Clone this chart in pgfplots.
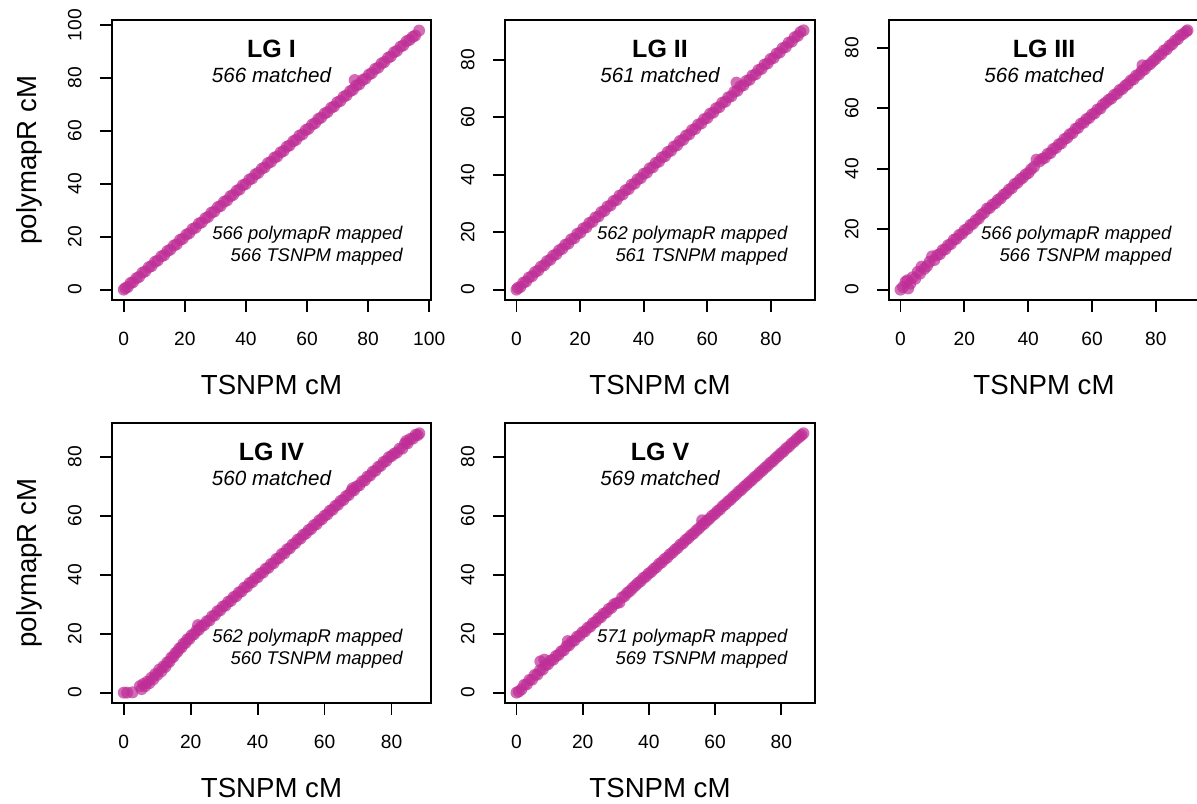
\documentclass[border=0pt]{standalone}
\usepackage{fontspec}
\setmainfont{Liberation Sans}
\usepackage{pgfplots}
\pgfplotsset{compat=1.18}
\definecolor{ptcol}{RGB}{190,45,150}

\pgfplotsset{
  rpanel/.style={
    scale only axis, height=140pt,
    axis line style={line width=0.9pt, black},
    tick align=outside, xtick pos=left, ytick pos=left,
    major tick length=6pt,
    tick style={line width=0.9pt, black},
    /pgf/number format/assume math mode=true,
    ticklabel style={font=\fontsize{9.6}{11}\selectfont, inner sep=0pt},
    xticklabel style={anchor=north},
    yticklabel style={rotate=90, anchor=south},
    xticklabel shift=10pt, yticklabel shift=9pt,
    label style={font=\fontsize{13.8}{16}\selectfont},
    xlabel={TSNPM cM},
    xlabel style={at={(axis description cs:0.5,-0.3036)}, anchor=center},
    ylabel style={at={(axis description cs:-0.26,0.5)}, anchor=center},
  },
  rpts/.style={only marks, mark=*, mark size=3.0pt, color=ptcol,
    mark options={draw opacity=0, fill=ptcol, fill opacity=0.7}},
}
\newcommand{\paneltext}[4]{%
  \node[font=\fontsize{12.5}{14}\selectfont\bfseries] at (rel axis cs:0.5,0.896) {#1};
  \node[font=\fontsize{10.3}{12}\selectfont\itshape] at (rel axis cs:0.5,0.804) {#2 matched};
  \node[anchor=east, inner sep=0pt, font=\fontsize{9.2}{11}\selectfont\itshape] at (rel axis cs:0.912,0.232) {#3 polymapR mapped};
  \node[anchor=east, inner sep=0pt, font=\fontsize{9.2}{11}\selectfont\itshape] at (rel axis cs:0.912,0.154) {#4 TSNPM mapped};
}

\begin{document}
\begin{tikzpicture}
\useasboundingbox (0,0) rectangle (598.5pt,-401.5pt);

% LG I
\begin{axis}[rpanel, width=159.5pt, at={(56pt,-150pt)}, anchor=south west,
  xmin=-3.87, xmax=100.6, ymin=-3.92, ymax=101.9,
  xtick={0,20,...,100}, ytick={0,20,...,100}, ylabel={polymapR cM}]
\addplot[rpts] coordinates {
(0.0,0.0) (0.5,0.6) (1.3,1.0) (2.2,2.5) (3.0,2.8) (4.1,4.3) (5.0,4.8) (6.1,6.4) (7.0,6.9) (8.2,8.5)
(9.1,8.9) (10.2,10.5) (11.1,11.0) (12.3,12.6) (13.2,13.0) (14.3,14.6) (15.2,15.1) (16.4,16.7) (17.3,17.1) (18.4,18.8)
(19.3,19.2) (20.5,20.8) (21.4,21.3) (22.5,22.9) (23.5,23.4) (24.6,25.0) (25.5,25.4) (26.7,27.0) (27.6,27.5) (28.7,29.1)
(29.6,29.5) (30.8,31.2) (31.7,31.6) (32.8,33.2) (33.8,33.7) (34.9,35.3) (35.8,35.8) (37.0,37.4) (37.9,37.9) (39.0,39.5)
(39.9,39.9) (41.1,41.6) (42.0,42.0) (43.1,43.6) (44.0,44.1) (45.2,45.7) (46.1,46.2) (47.2,47.8) (48.2,48.3) (49.3,49.9)
(50.2,50.3) (51.4,51.9) (52.3,52.4) (53.4,54.0) (54.3,54.5) (55.5,56.1) (56.4,56.6) (57.5,58.2) (58.5,58.7) (59.6,60.3)
(60.5,60.8) (61.7,62.4) (62.6,62.9) (63.7,64.5) (64.6,65.0) (65.8,66.6) (66.7,67.1) (67.9,68.7) (68.8,69.2) (69.9,70.8)
(70.9,71.3) (72.0,72.9) (72.9,73.4) (74.1,75.0) (75.0,75.5) (75.6,79.2) (76.1,77.1) (77.1,77.6) (78.2,79.2) (79.1,79.7)
(80.3,81.3) (81.2,81.8) (82.3,83.4) (83.3,83.9) (84.4,85.5) (85.3,86.0) (86.5,87.6) (87.4,88.1) (88.5,89.7) (89.4,90.2)
(90.6,91.8) (91.5,92.3) (92.6,93.9) (93.6,94.4) (94.6,95.5) (95.4,96.0) (96.7,97.9)};
\paneltext{LG I}{566}{566}{566}
\end{axis}

% LG II
\begin{axis}[rpanel, width=155pt, at={(252.5pt,-150pt)}, anchor=south west,
  xmin=-3.62, xmax=93.9, ymin=-3.61, ymax=93.8,
  xtick={0,20,...,80}, ytick={0,20,...,80}]
\addplot[rpts] coordinates {
(0.0,0.0) (0.4,0.6) (1.2,0.9) (2.1,2.4) (3.0,2.8) (3.9,4.2) (4.9,4.7) (5.8,6.1) (6.8,6.6) (7.7,8.0)
(8.7,8.5) (9.6,9.9) (10.6,10.4) (11.5,11.8) (12.5,12.3) (13.4,13.7) (14.4,14.2) (15.3,15.6) (16.3,16.0) (17.2,17.5)
(18.2,17.9) (19.1,19.4) (20.1,19.8) (21.0,21.3) (22.0,21.7) (22.9,23.2) (23.9,23.6) (24.8,25.1) (25.8,25.5) (26.7,27.0)
(27.7,27.4) (28.6,28.9) (29.6,29.3) (30.5,30.8) (31.5,31.2) (32.4,32.7) (33.4,33.1) (34.3,34.6) (35.3,35.0) (36.2,36.5)
(37.2,36.9) (38.1,38.4) (39.1,38.8) (40.0,40.3) (41.0,40.7) (41.9,42.2) (42.9,42.6) (43.8,44.1) (44.8,44.5) (45.7,46.0)
(46.7,46.4) (47.6,47.9) (48.6,48.3) (49.5,49.8) (50.5,50.2) (51.4,51.7) (52.4,52.1) (53.3,53.6) (54.3,54.0) (55.2,55.5)
(56.2,55.9) (57.1,57.4) (58.1,57.8) (59.0,59.3) (60.0,59.7) (60.9,61.2) (61.9,61.6) (62.8,63.1) (63.8,63.5) (64.7,65.0)
(65.7,65.4) (66.6,66.9) (67.6,67.3) (68.5,68.8) (69.2,72.0) (69.5,69.2) (70.4,70.7) (71.4,71.1) (72.3,72.6) (73.3,73.0)
(74.2,74.5) (75.2,74.9) (76.1,76.4) (77.1,76.8) (78.0,78.3) (79.0,78.7) (79.9,80.2) (80.9,80.6) (81.8,82.1) (82.8,82.5)
(83.7,84.0) (84.7,84.4) (85.6,85.9) (86.6,86.3) (87.5,87.8) (88.5,88.3) (89.3,89.6) (90.3,90.2)};
\paneltext{LG II}{561}{562}{561}
\end{axis}

% LG III
\begin{axis}[rpanel, width=155pt, at={(444.5pt,-150pt)}, anchor=south west,
  xmin=-3.6, xmax=93.5, ymin=-3.43, ymax=89.2,
  xtick={0,20,...,80}, ytick={0,20,...,80}]
\addplot[rpts] coordinates {
(0.0,0.0) (0.8,0.9) (1.6,2.6) (2.4,0.4) (2.2,3.1) (3.1,2.0) (3.8,4.1) (4.6,3.6) (5.4,5.9) (6.1,5.3)
(6.6,7.6) (7.5,6.9) (8.3,7.8) (9.1,9.2) (9.9,11.0) (10.6,9.8) (11.5,11.4) (12.4,11.8) (13.2,13.1) (14.1,13.4)
(14.9,14.7) (15.8,15.1) (16.7,16.5) (17.5,16.8) (18.4,18.1) (19.3,18.5) (20.1,19.7) (21.0,20.1) (21.9,21.4) (22.7,21.8)
(23.6,23.0) (24.5,23.5) (25.3,24.8) (26.2,25.4) (27.1,26.8) (27.9,27.0) (28.8,28.1) (29.7,28.6) (30.5,29.7) (31.4,30.2)
(32.3,31.4) (33.1,31.9) (34.0,33.1) (34.9,33.6) (35.7,34.9) (36.6,35.3) (37.5,36.5) (38.3,37.0) (39.2,38.1) (40.1,38.6)
(40.9,39.8) (41.8,40.6) (42.6,43.0) (43.5,42.4) (44.4,43.3) (45.2,43.6) (46.1,44.9) (47.0,45.2) (47.8,46.5) (48.7,46.9)
(49.6,48.1) (50.4,48.4) (51.3,49.8) (52.2,50.2) (53.0,51.4) (53.9,51.8) (54.8,53.2) (55.6,53.5) (56.5,54.9) (57.4,55.2)
(58.2,56.4) (59.1,56.8) (60.0,58.0) (60.8,58.3) (61.7,59.6) (62.6,59.9) (63.4,61.2) (64.3,61.9) (65.2,62.8) (66.0,63.2)
(66.9,64.4) (67.8,64.8) (68.6,66.0) (69.5,66.4) (70.4,67.5) (71.2,68.0) (72.1,69.2) (73.0,69.6) (73.8,70.8) (74.7,71.2)
(75.8,74.2) (75.6,72.4) (76.5,72.9) (77.3,74.1) (78.2,74.6) (79.1,75.6) (79.9,76.3) (80.8,77.4) (81.7,77.9) (82.5,79.1)
(83.4,79.5) (84.3,80.7) (85.1,81.2) (86.0,82.4) (86.9,82.9) (87.7,84.1) (88.6,84.6) (89.5,85.4) (89.9,85.8)};
\paneltext{LG III}{566}{566}{566}
\end{axis}

% LG IV
\begin{axis}[rpanel, width=159.5pt, at={(56pt,-351.5pt)}, anchor=south west,
  xmin=-3.53, xmax=91.8, ymin=-3.52, ymax=91.4,
  xtick={0,20,...,80}, ytick={0,20,...,80}, ylabel={polymapR cM}]
\addplot[rpts] coordinates {
(0.0,0.0) (1.0,0.0) (2.6,0.1) (4.8,2.2) (5.3,1.2) (5.8,2.9) (6.4,2.2) (7.0,3.7) (7.6,3.2) (8.2,5.0)
(8.8,4.5) (9.4,6.3) (10.0,6.0) (10.6,7.8) (11.2,7.2) (11.8,8.9) (12.4,8.7) (13.0,10.3) (13.6,10.4) (14.2,11.9)
(14.8,12.1) (15.4,13.4) (16.0,13.8) (16.6,15.0) (17.2,15.3) (17.8,16.6) (18.4,16.8) (19.0,18.1) (19.6,18.2) (20.3,19.5)
(21.0,19.8) (21.7,21.0) (22.2,22.9) (22.4,21.3) (23.2,22.5) (24.0,22.9) (24.8,24.2) (25.6,24.5) (26.4,25.9) (27.2,26.2)
(28.0,27.6) (28.8,27.9) (29.6,29.2) (30.4,29.5) (31.2,30.8) (32.0,31.1) (32.8,32.4) (33.6,32.7) (34.4,34.0) (35.2,34.3)
(36.0,35.6) (36.8,35.9) (37.6,37.2) (38.4,37.5) (39.2,38.8) (40.0,39.1) (40.8,40.4) (41.6,40.7) (42.4,42.0) (43.2,42.3)
(44.0,43.6) (44.8,43.9) (45.6,45.3) (46.4,45.6) (47.2,47.0) (48.0,47.2) (48.8,48.6) (49.6,48.9) (50.4,50.2) (51.2,50.6)
(52.0,51.9) (52.8,52.2) (53.6,53.5) (54.4,53.9) (55.2,55.1) (56.0,55.5) (56.8,56.8) (57.6,57.1) (58.4,58.4) (59.2,58.8)
(60.0,60.0) (60.8,60.4) (61.6,61.7) (62.4,62.0) (63.2,63.3) (64.0,63.7) (64.8,65.0) (65.6,65.3) (66.4,66.6) (67.2,67.0)
(68.0,68.3) (68.4,69.3) (68.8,68.6) (69.6,69.9) (70.4,70.3) (71.2,71.6) (72.0,71.9) (72.8,73.2) (73.6,73.6) (74.4,74.9)
(75.2,75.2) (76.0,76.5) (76.8,76.9) (77.6,78.2) (78.4,78.5) (79.2,79.8) (80.0,80.2) (80.8,81.0) (81.6,81.4) (82.4,82.7)
(83.2,82.7) (84.0,84.4) (84.4,85.3) (84.8,84.5) (85.6,86.0) (86.4,86.1) (87.2,87.4) (87.8,87.3) (88.3,87.9)};
\paneltext{LG IV}{560}{562}{560}
\end{axis}

% LG V
\begin{axis}[rpanel, width=155pt, at={(252.5pt,-351.5pt)}, anchor=south west,
  xmin=-3.47, xmax=90.2, ymin=-3.52, ymax=91.5,
  xtick={0,20,...,80}, ytick={0,20,...,80}]
\addplot[rpts] coordinates {
(0.0,0.0) (0.7,0.4) (1.5,1.1) (2.3,2.6) (3.1,2.8) (3.9,4.3) (4.7,4.4) (5.5,6.0) (6.3,6.1) (7.1,7.6)
(7.2,10.6) (7.9,7.8) (8.4,11.2) (8.7,9.3) (9.5,9.6) (10.3,10.9) (11.1,11.2) (11.9,12.4) (12.7,12.8) (13.5,14.0)
(14.3,14.4) (15.1,15.7) (15.5,17.5) (15.9,16.1) (16.7,17.3) (17.5,17.7) (18.3,19.0) (19.1,19.3) (19.9,20.5) (20.7,20.8)
(21.5,22.0) (22.3,22.4) (23.1,23.6) (23.9,24.0) (24.7,25.2) (25.5,25.6) (26.3,26.8) (27.1,27.2) (27.9,28.4) (28.7,28.8)
(29.5,30.0) (30.3,30.4) (31.1,30.6) (31.9,32.3) (32.7,32.8) (33.5,33.9) (34.3,34.5) (35.1,35.5) (35.9,36.3) (36.7,37.2)
(37.5,37.8) (38.3,38.9) (39.1,39.4) (39.9,40.4) (40.7,41.0) (41.5,42.0) (42.3,42.6) (43.1,43.7) (43.9,44.2) (44.7,45.3)
(45.5,45.8) (46.3,46.9) (47.1,47.5) (47.9,48.5) (48.7,49.1) (49.5,50.2) (50.3,50.7) (51.1,51.8) (51.9,52.4) (52.7,53.4)
(53.5,54.0) (54.3,55.0) (55.1,55.7) (55.9,56.7) (56.1,58.5) (56.7,57.3) (57.5,58.3) (58.3,59.0) (59.1,60.0) (59.9,60.6)
(60.7,61.6) (61.5,62.2) (62.3,63.3) (63.1,63.9) (63.9,64.9) (64.7,65.5) (65.5,66.5) (66.3,67.2) (67.1,68.2) (67.9,68.8)
(68.7,69.8) (69.5,70.5) (70.3,71.4) (71.1,72.1) (71.9,73.1) (72.7,73.7) (73.5,74.7) (74.3,75.4) (75.1,76.3) (75.9,77.0)
(76.7,78.0) (77.5,78.6) (78.3,79.6) (79.1,80.3) (79.9,81.2) (80.7,81.9) (81.5,82.9) (82.3,83.5) (83.1,84.5) (83.9,85.2)
(84.7,86.1) (85.5,86.8) (86.1,87.4) (86.7,88.0)};
\paneltext{LG V}{569}{571}{569}
\end{axis}
\end{tikzpicture}
\end{document}
